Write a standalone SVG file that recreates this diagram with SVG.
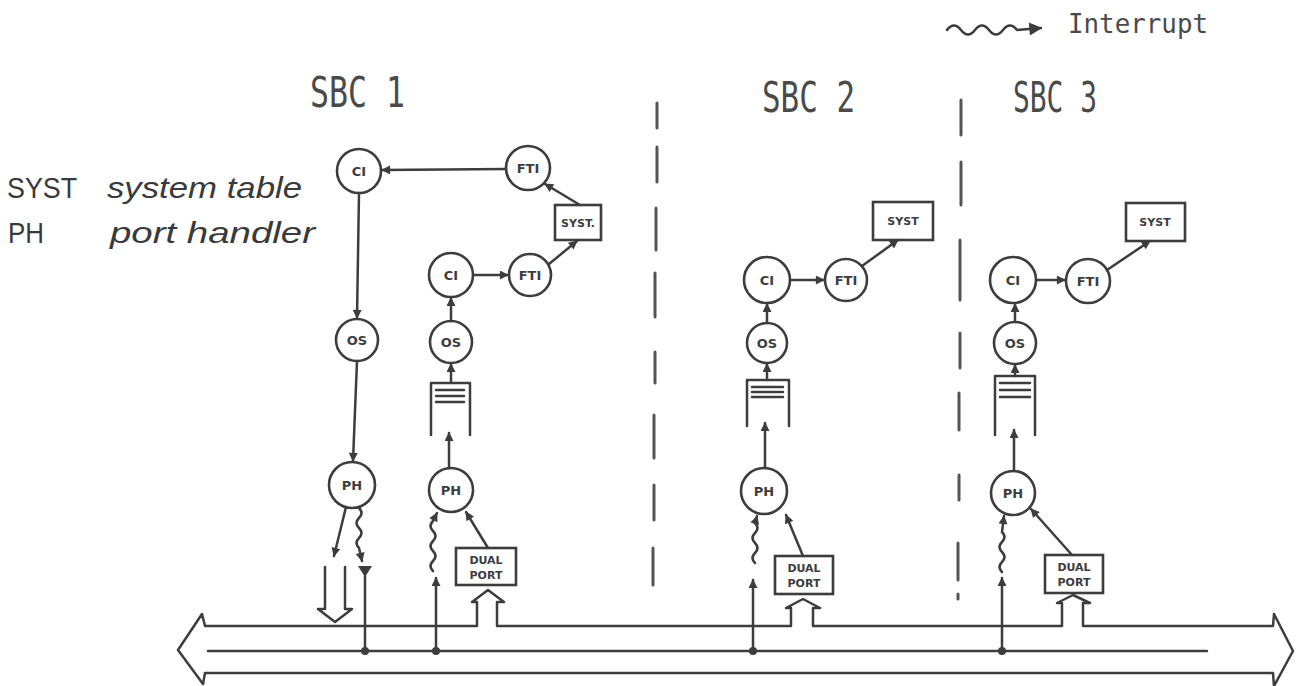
<svg xmlns="http://www.w3.org/2000/svg" width="1297" height="686" viewBox="0 0 1297 686">
<defs>
<marker id="ah" viewBox="0 0 10 10" refX="9" refY="5" markerWidth="11" markerHeight="9" markerUnits="userSpaceOnUse" orient="auto"><path d="M0,0 L10,5 L0,10 z" fill="#3d3d3d"/></marker>
<marker id="ahBig" viewBox="0 0 10 10" refX="9" refY="5" markerWidth="15" markerHeight="13" markerUnits="userSpaceOnUse" orient="auto"><path d="M0,0 L10,5 L0,10 z" fill="#3d3d3d"/></marker>
<style>
.ln{fill:none;stroke:#3d3d3d;stroke-width:2.5;stroke-linecap:round;stroke-linejoin:round}
.ar{fill:none;stroke:#3d3d3d;stroke-width:2.5;stroke-linecap:round;marker-end:url(#ah)}
.nd{fill:#fff;stroke:#3d3d3d;stroke-width:2.6}
.nt{font-family:"DejaVu Sans",sans-serif;font-weight:bold;font-size:13px;fill:#3d3d3d;text-anchor:middle}
.bt{font-family:"DejaVu Sans",sans-serif;font-weight:bold;font-size:11px;fill:#3d3d3d;text-anchor:middle}
.dv{stroke:#555;stroke-width:3;stroke-linecap:round}
.tw{font-family:"DejaVu Sans Mono",monospace;fill:#4a4a4a}
.hw{font-family:"Liberation Sans",sans-serif;fill:#3a3a3a}
</style>
</defs>
<rect width="1297" height="686" fill="#fff"/>

<g id="legend">
<path class="ln" d="M947,30 q7,-9 14,0 t14,0 t14,0 t14,0 t14,0 L1041,28" style="marker-end:url(#ahBig)"/>
<text class="tw" x="1068" y="33" font-size="27" textLength="140" lengthAdjust="spacingAndGlyphs">Interrupt</text>
</g>

<g id="headings">
<text class="tw" x="310" y="107" font-size="42" textLength="95" lengthAdjust="spacingAndGlyphs">SBC 1</text>
<text class="tw" x="762" y="112" font-size="42" textLength="93" lengthAdjust="spacingAndGlyphs">SBC 2</text>
<text class="tw" x="1013" y="112" font-size="42" textLength="84" lengthAdjust="spacingAndGlyphs">SBC 3</text>
</g>

<g id="key">
<text class="hw" x="7" y="198" font-size="30" textLength="70" lengthAdjust="spacingAndGlyphs">SYST</text>
<text class="hw" x="107" y="198" font-size="30" font-style="italic" textLength="195" lengthAdjust="spacingAndGlyphs">system table</text>
<text class="hw" x="8" y="243" font-size="30" textLength="36" lengthAdjust="spacingAndGlyphs">PH</text>
<text class="hw" x="110" y="243" font-size="30" font-style="italic" textLength="205" lengthAdjust="spacingAndGlyphs">port handler</text>
</g>

<g id="dividers">
<line class="dv" x1="657" y1="103" x2="657" y2="128"/>
<line class="dv" x1="657" y1="147" x2="657" y2="182"/>
<line class="dv" x1="656" y1="208" x2="656" y2="250"/>
<line class="dv" x1="655" y1="273" x2="655" y2="317"/>
<line class="dv" x1="655" y1="352" x2="655" y2="383"/>
<line class="dv" x1="654" y1="415" x2="654" y2="458"/>
<line class="dv" x1="654" y1="485" x2="654" y2="520"/>
<line class="dv" x1="653" y1="548" x2="653" y2="585"/>
<line class="dv" x1="961" y1="100" x2="961" y2="135"/>
<line class="dv" x1="961" y1="162" x2="961" y2="205"/>
<line class="dv" x1="960" y1="240" x2="960" y2="300"/>
<line class="dv" x1="960" y1="333" x2="960" y2="368"/>
<line class="dv" x1="959" y1="393" x2="959" y2="430"/>
<line class="dv" x1="959" y1="475" x2="959" y2="500"/>
<line class="dv" x1="958" y1="543" x2="958" y2="580"/>
<line class="dv" x1="958" y1="594" x2="958" y2="599"/>
</g>

<g id="bus">
<path class="ln" d="M205,626 H477 V602 H472 L488,590 L504,602 H497 V626 H791 V608 H786 L803,599 L820,608 H813 V626 H1062 V603 H1057 L1073,595 L1090,603 H1083 V626 H1273 L1274,614 L1293,651 L1274,686 L1273,673 H205 L203,684 L178,650 L202,614 Z"/>
<line class="ln" x1="208" y1="651" x2="1207" y2="651"/>
<circle cx="365" cy="651" r="4" fill="#3d3d3d"/>
<circle cx="436" cy="651" r="4" fill="#3d3d3d"/>
<circle cx="753" cy="651" r="4" fill="#3d3d3d"/>
<circle cx="1002" cy="651" r="4" fill="#3d3d3d"/>
</g>

<g id="sbc1-ci-a"><circle class="nd" cx="359" cy="171" r="22"/><text class="nt" x="359" y="176">CI</text></g>
<g id="sbc1-fti-a"><circle class="nd" cx="528" cy="168" r="22"/><text class="nt" x="528" y="173">FTI</text></g>
<g id="sbc1-syst"><rect class="nd" x="555" y="205" width="46" height="35"/><text class="bt" x="578" y="227">SYST.</text></g>
<g id="sbc1-os-a"><circle class="nd" cx="357" cy="340" r="21"/><text class="nt" x="357" y="345">OS</text></g>
<g id="sbc1-ph-a"><circle class="nd" cx="352" cy="485" r="23"/><text class="nt" x="352" y="490">PH</text></g>
<g id="sbc1-out"><path class="ln" d="M325,567 V609 H318 L335,622 L352,609 H345 V567" fill="#fff"/></g>

<g id="sbc1-ci-b"><circle class="nd" cx="451" cy="275" r="22"/><text class="nt" x="451" y="280">CI</text></g>
<g id="sbc1-fti-b"><circle class="nd" cx="530" cy="275" r="21"/><text class="nt" x="530" y="280">FTI</text></g>
<g id="sbc1-os-b"><circle class="nd" cx="451" cy="342" r="21"/><text class="nt" x="451" y="347">OS</text></g>
<g id="sbc1-queue"><path class="ln" d="M431,435 V383 H470 V435"/><path class="ln" d="M436,390 H464 M436,396 H464 M436,402 H464"/></g>
<g id="sbc1-ph-b"><circle class="nd" cx="451" cy="490" r="22"/><text class="nt" x="451" y="495">PH</text></g>
<g id="sbc1-dual"><rect class="nd" x="456" y="548" width="60" height="37"/><text class="bt" x="486" y="564">DUAL</text><text class="bt" x="486" y="579">PORT</text></g>

<g id="sbc2-ci"><circle class="nd" cx="767" cy="280" r="23"/><text class="nt" x="767" y="285">CI</text></g>
<g id="sbc2-fti"><circle class="nd" cx="846" cy="280" r="21"/><text class="nt" x="846" y="285">FTI</text></g>
<g id="sbc2-syst"><rect class="nd" x="873" y="202" width="60" height="38"/><text class="bt" x="903" y="225">SYST</text></g>
<g id="sbc2-os"><circle class="nd" cx="767" cy="343" r="20"/><text class="nt" x="767" y="348">OS</text></g>
<g id="sbc2-queue"><path class="ln" d="M747,426 V380 H789 V426"/><path class="ln" d="M752,387 H783 M752,392 H783 M752,397 H783"/></g>
<g id="sbc2-ph"><circle class="nd" cx="764" cy="491" r="23"/><text class="nt" x="764" y="496">PH</text></g>
<g id="sbc2-dual"><rect class="nd" x="775" y="556" width="58" height="38"/><text class="bt" x="804" y="572">DUAL</text><text class="bt" x="804" y="587">PORT</text></g>

<g id="sbc3-ci"><circle class="nd" cx="1013" cy="280" r="23"/><text class="nt" x="1013" y="285">CI</text></g>
<g id="sbc3-fti"><circle class="nd" cx="1088" cy="281" r="22"/><text class="nt" x="1088" y="286">FTI</text></g>
<g id="sbc3-syst"><rect class="nd" x="1126" y="203" width="59" height="38"/><text class="bt" x="1155" y="226">SYST</text></g>
<g id="sbc3-os"><circle class="nd" cx="1015" cy="343" r="21"/><text class="nt" x="1015" y="348">OS</text></g>
<g id="sbc3-queue"><path class="ln" d="M995,435 V376 H1035 V435"/><path class="ln" d="M1000,383 H1030 M1000,390 H1030 M1000,397 H1030"/></g>
<g id="sbc3-ph"><circle class="nd" cx="1013" cy="493" r="22"/><text class="nt" x="1013" y="498">PH</text></g>
<g id="sbc3-dual"><rect class="nd" x="1045" y="555" width="58" height="38"/><text class="bt" x="1074" y="571">DUAL</text><text class="bt" x="1074" y="586">PORT</text></g>

<g id="connectors">
<path class="ar" d="M506,169 L382,170"/>
<path class="ar" d="M580,205 L545,184"/>
<path class="ar" d="M359,193 L357,318"/>
<path class="ar" d="M357,361 L353,461"/>
<path class="ar" d="M346,507 L334,556"/>
<path class="ar" d="M359,508 q5,5 0,10 t0,10 t0,10 t0,10 L362,561"/>
<path class="ln" d="M365,576 V651"/>
<path d="M358,566 L372,566 L365,577 z" fill="#3d3d3d"/>

<path class="ar" d="M473,275 L508,275"/>
<path class="ar" d="M549,264 L577,241"/>
<path class="ar" d="M451,321 L451,298"/>
<path class="ar" d="M451,383 L451,364"/>
<path class="ar" d="M449,468 L449,433"/>
<path class="ar" d="M488,548 L466,512"/>
<path class="ar" d="M433,571 q-5,-5 0,-10 t0,-10 t0,-10 t0,-10 t0,-10 L437,513"/>
<path class="ar" d="M436,651 L436,578"/>

<path class="ar" d="M790,280 L824,280"/>
<path class="ar" d="M862,266 L898,240"/>
<path class="ar" d="M767,323 L767,304"/>
<path class="ar" d="M767,380 L767,364"/>
<path class="ar" d="M765,468 L765,423"/>
<path class="ar" d="M803,556 L786,515"/>
<path class="ar" d="M755,563 q-5,-5 0,-10 t0,-10 t0,-10 t0,-10 L757,516"/>
<path class="ar" d="M753,651 L753,580"/>

<path class="ar" d="M1036,280 L1065,280"/>
<path class="ar" d="M1107,270 L1150,241"/>
<path class="ar" d="M1015,322 L1015,304"/>
<path class="ar" d="M1015,376 L1015,365"/>
<path class="ar" d="M1014,471 L1014,430"/>
<path class="ar" d="M1072,555 L1031,509"/>
<path class="ar" d="M1002,572 q-5,-5 0,-10 t0,-10 t0,-10 t0,-10 L1004,516"/>
<path class="ar" d="M1002,651 L1002,578"/>
</g>
</svg>
